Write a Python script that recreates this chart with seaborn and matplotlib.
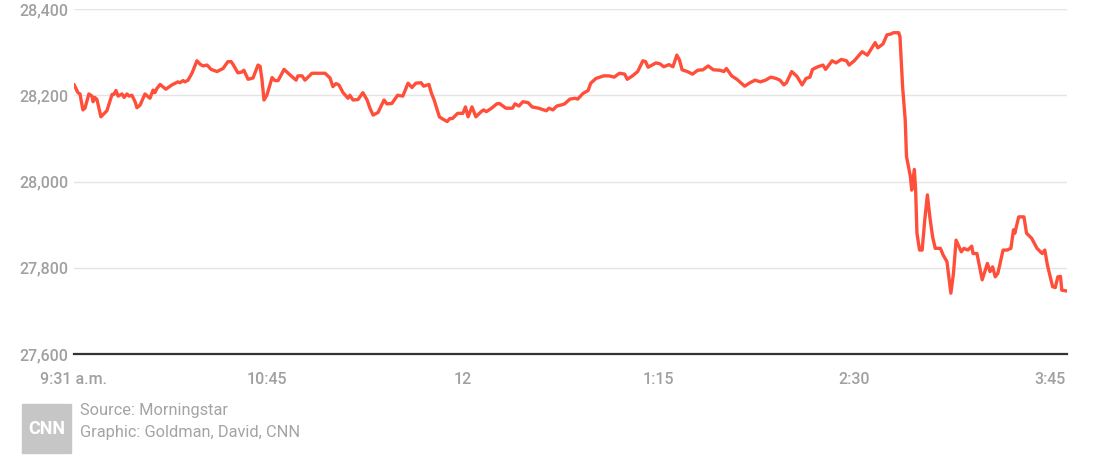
import matplotlib
matplotlib.use("Agg")
import matplotlib.pyplot as plt
from matplotlib.patches import Rectangle
import seaborn as sns
import pandas as pd

# minutes after the 9:30 open
minutes = [1, 2.5, 3.3, 4.4, 5.2, 6.7, 7.9, 8.3, 9.0, 9.8, 11.3, 13.6, 15.6, 16.3, 17.1, 17.9,
           19.4, 20.2, 21.3, 22.1, 23.2, 24.4, 25.1, 26.3, 28.2, 30.1, 31.3, 32.0, 32.8, 34.0,
           36.2, 38.5, 40.8, 41.6, 42.8, 43.5, 44.7, 46.2, 48.1, 49.3, 50.4, 52.0, 53.5, 55.8,
           58.1, 60.0, 61.2, 61.9, 63.8, 65.4, 66.1, 67.7, 69.6, 71.5, 72.3, 73.0, 73.8, 74.9,
           76.9, 78.0, 79.2, 81.5, 83.8, 86.1, 86.8, 88.4, 89.5, 92.2, 96.0, 97.2, 99.1, 100.2,
           101.4, 102.5, 104.1, 106.0, 106.7, 107.9, 109.8, 111.7, 113.3, 114.4, 115.6, 117.5,
           119.8, 120.9, 122.8, 125, 127, 129, 130.5, 132, 134, 135, 137, 138, 139, 141, 142,
           144, 145, 146, 148, 150, 151, 152, 153.5, 155, 157, 158, 159, 161, 163, 164, 166.5,
           169, 170, 171.5, 173, 175, 176.5, 179, 181, 182, 183, 184.5, 186, 188, 189, 191, 193,
           194, 196, 198, 199, 201, 202.5, 204, 206, 208, 210, 212, 213, 215, 217, 219, 220, 221,
           224, 225.5, 227, 229, 230.5, 232, 233, 234, 236, 238, 240, 242, 244, 246, 248.5, 250,
           251, 253, 255, 258, 260, 262, 264, 266, 268, 270, 271.5, 273, 274, 276, 278, 280,
           281.5, 283, 284, 286, 287, 288, 289, 291.5, 293, 295, 297, 298, 300, 303, 305, 308,
           309, 311, 312.5, 314, 315, 317, 317.5, 318.5, 319.5, 320, 321.5, 322, 323, 323.5, 324,
           325, 326, 327, 328, 329, 330, 331, 333, 334, 335.5, 337, 338, 339, 341, 342, 343.5,
           345, 345.5, 347, 349, 351, 352, 353, 354, 355, 357, 358.5, 360, 361, 361.5, 363, 365,
           366, 368, 370, 372, 373, 374, 376, 377, 378, 379, 379.5, 381.5]

dow = [28225, 28206, 28203, 28166, 28170, 28203, 28198, 28185, 28195, 28190, 28150, 28164,
       28202, 28202, 28211, 28198, 28203, 28195, 28203, 28198, 28200, 28185, 28171, 28177,
       28203, 28193, 28212, 28206, 28216, 28225, 28214, 28224, 28231, 28229, 28234, 28231,
       28235, 28251, 28280, 28272, 28268, 28270, 28260, 28255, 28262, 28278, 28278, 28272,
       28252, 28254, 28258, 28237, 28240, 28270, 28267, 28238, 28189, 28200, 28241, 28234,
       28234, 28260, 28247, 28235, 28245, 28245, 28235, 28251, 28251, 28251, 28240, 28220,
       28227, 28224, 28206, 28193, 28200, 28189, 28190, 28206, 28189, 28170, 28154, 28160,
       28189, 28180, 28181, 28200, 28198, 28228, 28218, 28228, 28229, 28221, 28225, 28204,
       28189, 28150, 28146, 28139, 28146, 28146, 28158, 28158, 28173, 28150, 28173, 28150,
       28162, 28166, 28162, 28170, 28180, 28181, 28170, 28170, 28180, 28175, 28185, 28183,
       28173, 28170, 28166, 28164, 28170, 28166, 28175, 28178, 28180, 28191, 28193, 28191,
       28204, 28211, 28228, 28239, 28242, 28245, 28245, 28242, 28251, 28249, 28237, 28245,
       28255, 28280, 28278, 28265, 28275, 28273, 28266, 28271, 28266, 28293, 28282, 28259,
       28255, 28249, 28258, 28259, 28268, 28259, 28258, 28255, 28262, 28245, 28237, 28221,
       28229, 28235, 28231, 28235, 28242, 28239, 28235, 28224, 28229, 28255, 28244, 28224,
       28239, 28242, 28260, 28266, 28268, 28270, 28260, 28280, 28275, 28283, 28280, 28270,
       28280, 28301, 28293, 28322, 28310, 28319, 28340, 28342, 28345, 28345, 28336, 28220,
       28143, 28058, 28011, 27980, 28028, 27980, 27880, 27841, 27841, 27911, 27969, 27915,
       27872, 27845, 27845, 27830, 27814, 27741, 27787, 27864, 27837, 27845, 27841, 27850,
       27833, 27833, 27772, 27810, 27791, 27802, 27779, 27787, 27841, 27841, 27845, 27888,
       27880, 27918, 27918, 27880, 27868, 27845, 27833, 27841, 27806, 27756, 27754, 27779,
       27780, 27748, 27746]

tick_minutes = [1, 75, 150, 225, 300, 375]
tick_labels = ["9:31 a.m.", "10:45", "12", "1:15", "2:30", "3:45"]
y_ticks = [27600, 27800, 28000, 28200, 28400]

df = pd.DataFrame({"minute": minutes, "dow": dow})

sns.set_style("white")
plt.rcParams["font.family"] = ["Roboto", "DejaVu Sans"]

fig = plt.figure(figsize=(11.07, 4.68), dpi=100)
ax = fig.add_axes([74 / 1107, 1 - 354 / 468, (1067 - 74) / 1107, 345 / 468])

sns.lineplot(data=df, x="minute", y="dow", ax=ax, color="#ff4f3a", linewidth=2.4,
             estimator=None, zorder=3, solid_joinstyle="round", solid_capstyle="round")

ax.set_xlim(1, 381.5)
ax.set_ylim(27600, 28400)
ax.set_yticks(y_ticks)
ax.set_yticklabels([f"{v:,}" for v in y_ticks])
ax.set_xticks(tick_minutes)
ax.set_xticklabels(tick_labels)
ax.set_xlabel("")
ax.set_ylabel("")

ax.grid(axis="y", color="#e4e4e4", linewidth=1)
ax.grid(axis="x", visible=False)
for s in ["top", "right", "left"]:
    ax.spines[s].set_visible(False)
ax.spines["bottom"].set_color("#333333")
ax.spines["bottom"].set_linewidth(1.6)
ax.spines["bottom"].set_zorder(4)

ax.tick_params(axis="y", length=0, pad=4, labelsize=11.5, labelcolor="#a0a0a0")
ax.tick_params(axis="x", length=0, pad=13, labelsize=11.5, labelcolor="#a0a0a0")
for lbl in ax.get_xticklabels() + ax.get_yticklabels():
    lbl.set_fontweight("medium")

# footer: CNN badge and credits
fig.patches.append(Rectangle((22 / 1107, 1 - 453 / 468), 49 / 1107, 49 / 468,
                             transform=fig.transFigure, color="#c6c6c6", zorder=0))
fig.text(46.5 / 1107, 1 - 429 / 468, "CNN", color="white", fontsize=13, fontweight="bold",
         ha="center", va="center")
fig.text(80 / 1107, 1 - 411 / 468, "Source: Morningstar", color="#a4a4a4", fontsize=11.8,
         ha="left", va="center")
fig.text(80 / 1107, 1 - 432 / 468, "Graphic: Goldman, David, CNN", color="#a4a4a4", fontsize=11.8,
         ha="left", va="center")

fig.savefig("out.png", dpi=100)
